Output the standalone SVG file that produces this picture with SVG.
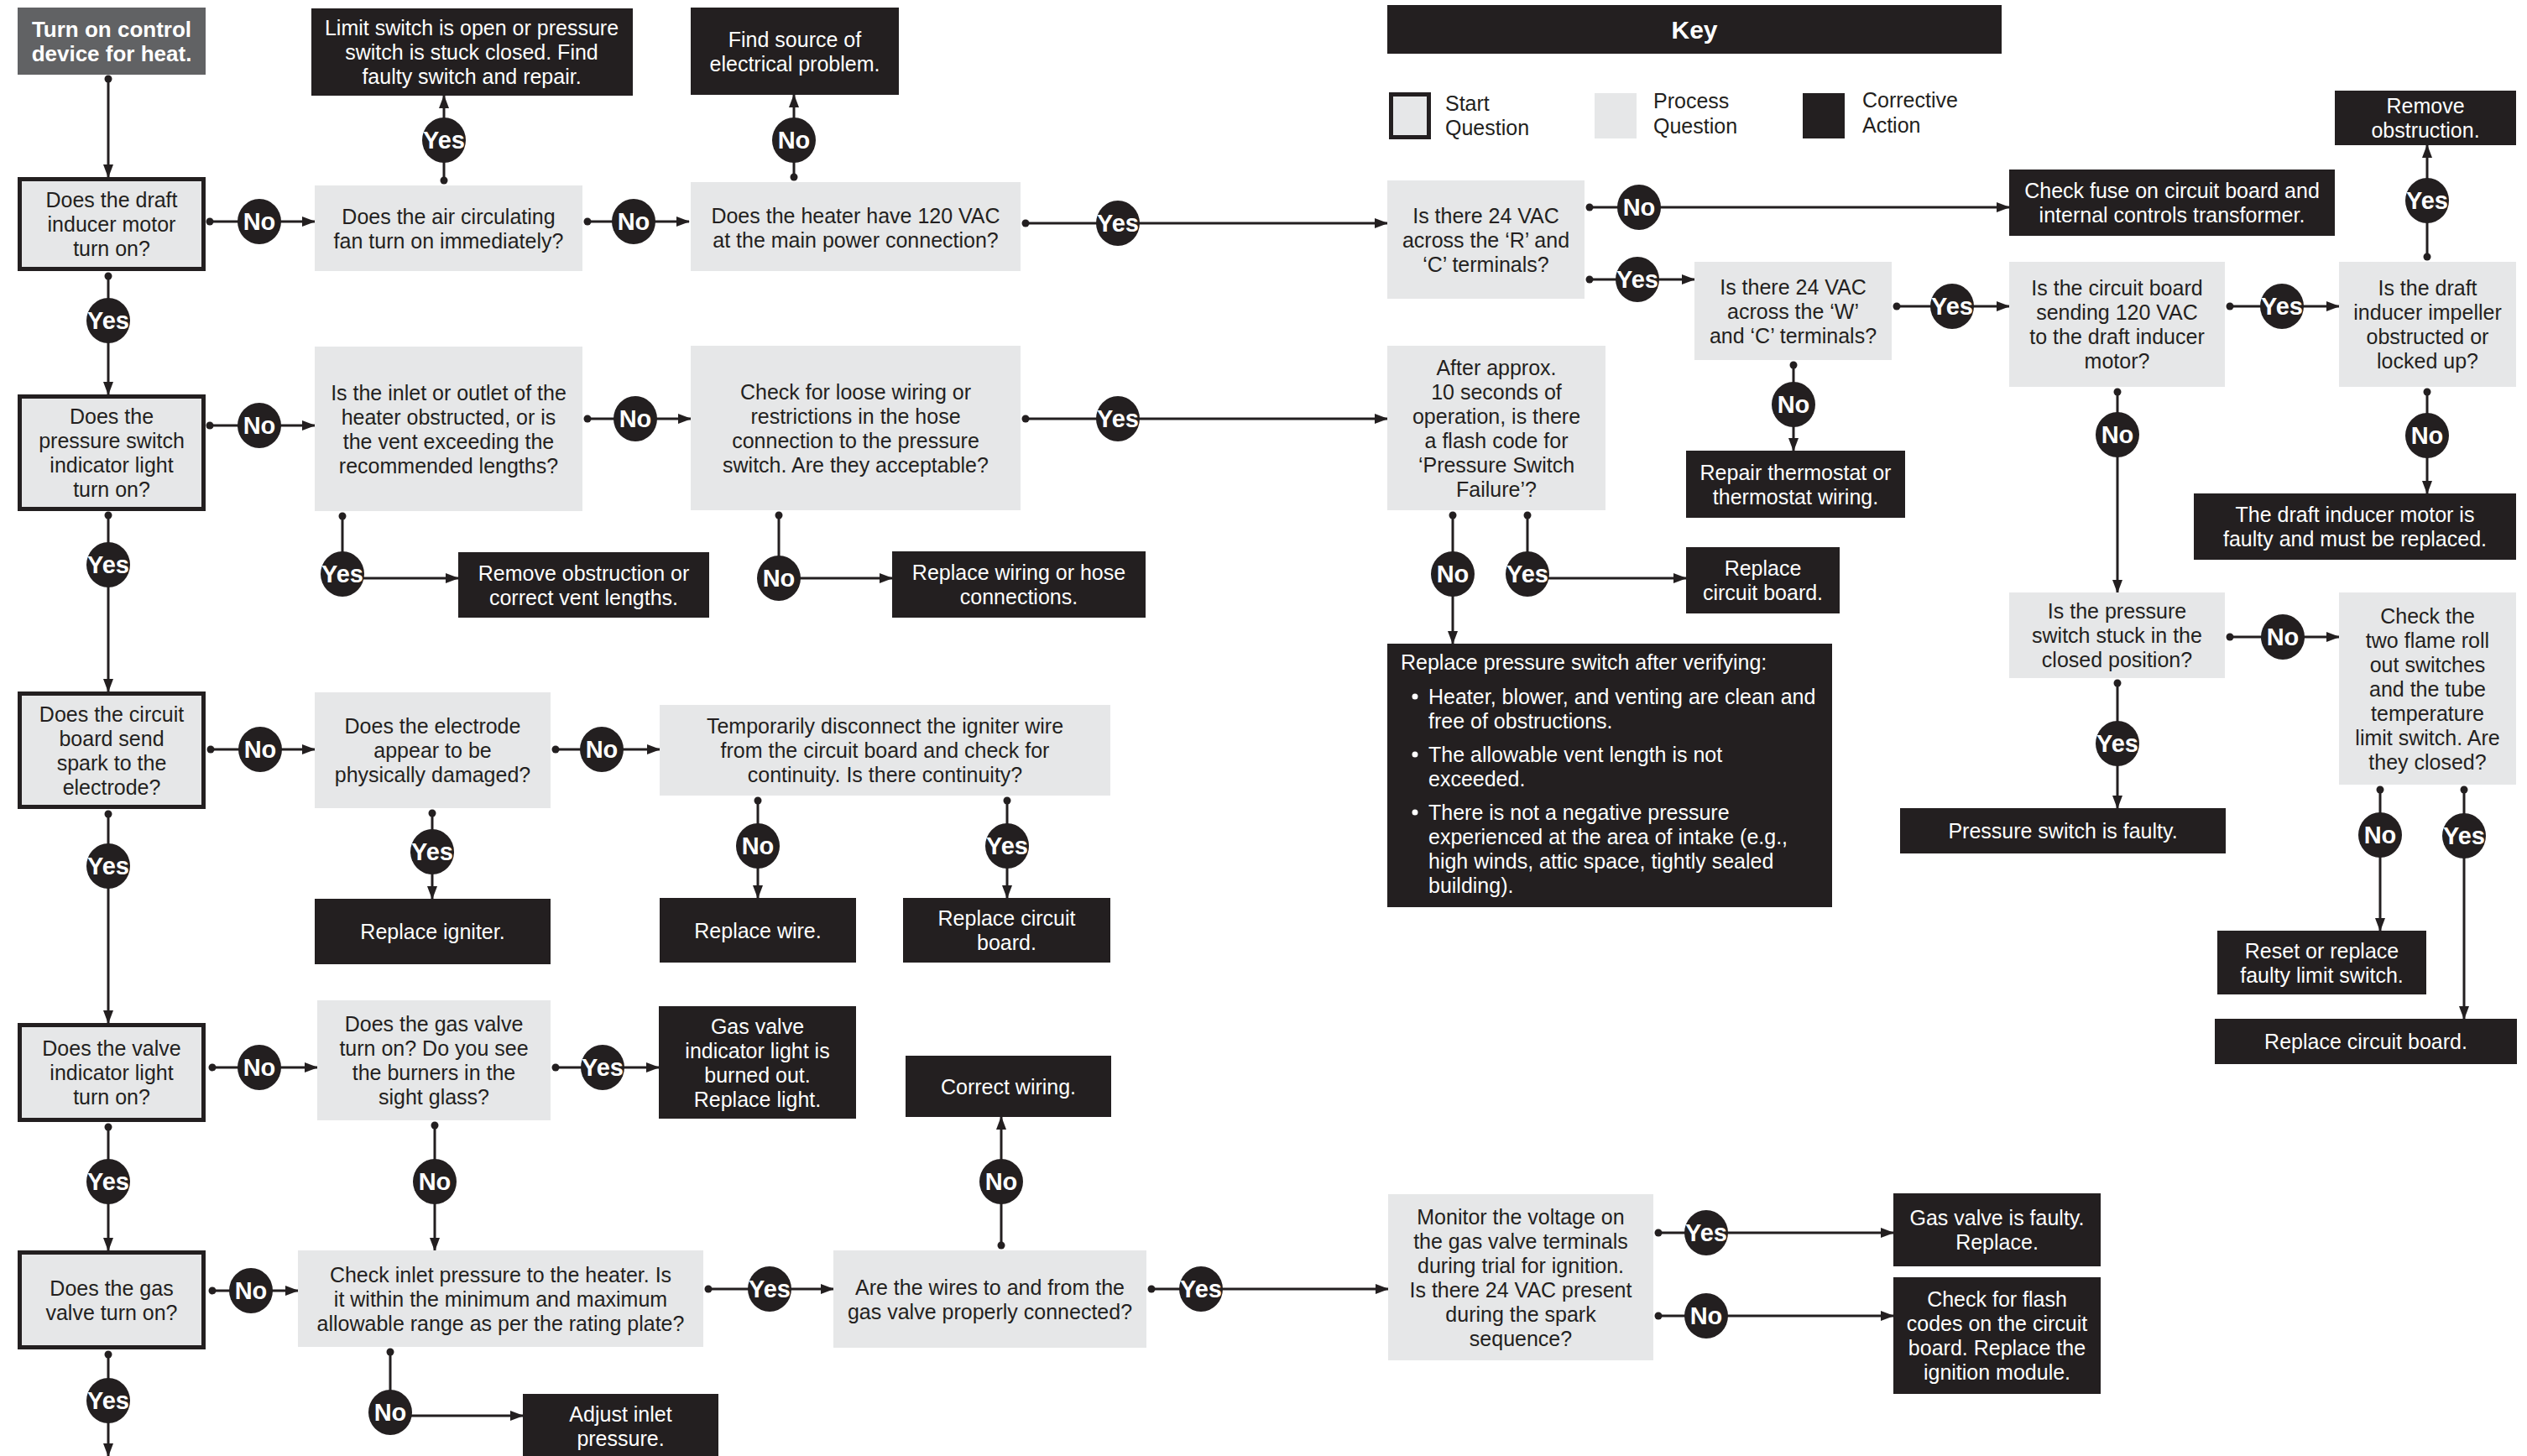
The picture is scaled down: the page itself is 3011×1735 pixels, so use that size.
<svg xmlns="http://www.w3.org/2000/svg" width="3011" height="1735" viewBox="0 0 3011 1735">
<style>
text{font-family:"Liberation Sans",Arial,Helvetica,sans-serif;font-size:25px;fill:#231f20;text-anchor:middle}
.p{fill:#e6e7e8}
.c{fill:#231f20}
.s{fill:#e6e7e8;stroke:#231f20;stroke-width:5}
.w{fill:#ffffff}
.l{text-anchor:start}
.hd{font-weight:bold;font-size:26px;fill:#ffffff}
.key{font-weight:bold;font-size:30px;fill:#ffffff}
#connectors path{fill:none;stroke:#231f20;stroke-width:3;marker-start:url(#dot)}
.arr{marker-end:url(#arrow)}
.lbl ellipse{fill:#231f20}
.lbl text{font-weight:bold;font-size:29px;fill:#ffffff}
</style>
<defs>
<marker id="arrow" markerUnits="userSpaceOnUse" markerWidth="16" markerHeight="12" refX="15" refY="6" orient="auto"><path d="M0,0 L16,6 L0,12 Z" fill="#231f20"/></marker>
<marker id="dot" markerUnits="userSpaceOnUse" markerWidth="10" markerHeight="10" refX="5" refY="5" orient="auto"><circle cx="5" cy="5" r="4.5" fill="#231f20"/></marker>
</defs>
<rect width="3011" height="1735" fill="#ffffff"/>

<g id="connectors">
<path class="arr" d="M129,94 V211"/>
<path class="arr" d="M250,264 H375"/>
<path class="arr" d="M529,215 V114"/>
<path class="arr" d="M700,264 H821"/>
<path class="arr" d="M946,211 V113"/>
<path class="arr" d="M1222,266 H1653"/>
<path class="arr" d="M129,329 V470"/>
<path class="arr" d="M250,507 H375"/>
<path class="arr" d="M700,499 H823"/>
<path class="arr" d="M1222,499 H1653"/>
<path class="arr" d="M408,615 V689 H546"/>
<path class="arr" d="M928,614 V689 H1063"/>
<path class="arr" d="M1820,614 V689 H2009"/>
<path class="arr" d="M1731,614 V767"/>
<path class="arr" d="M1894,247 H2394"/>
<path class="arr" d="M1894,333 H2019"/>
<path class="arr" d="M2260,365 H2394"/>
<path class="arr" d="M2657,365 H2787"/>
<path class="arr" d="M2892,306 V173"/>
<path class="arr" d="M2137,435 V537"/>
<path class="arr" d="M2523,467 V706"/>
<path class="arr" d="M2892,467 V588"/>
<path class="arr" d="M2657,759 H2787"/>
<path class="arr" d="M2523,814 V963"/>
<path class="arr" d="M2836,941 V1109"/>
<path class="arr" d="M2936,941 V1214"/>
<path class="arr" d="M129,614 V824"/>
<path class="arr" d="M251,893 H375"/>
<path class="arr" d="M662,893 H786"/>
<path class="arr" d="M515,969 V1071"/>
<path class="arr" d="M903,954 V1070"/>
<path class="arr" d="M1200,954 V1070"/>
<path class="arr" d="M129,970 V1219"/>
<path class="arr" d="M253,1272 H378"/>
<path class="arr" d="M662,1272 H785"/>
<path class="arr" d="M518,1341 V1490"/>
<path class="arr" d="M129,1343 V1490"/>
<path class="arr" d="M253,1538 H355"/>
<path class="arr" d="M129,1614 V1735"/>
<path class="arr" d="M465,1611 V1687 H623"/>
<path class="arr" d="M844,1536 H993"/>
<path class="arr" d="M1193,1484 V1331"/>
<path class="arr" d="M1372,1536 H1654"/>
<path class="arr" d="M1976,1469 H2256"/>
<path class="arr" d="M1976,1568 H2256"/>

<g class="lbl"><ellipse cx="309" cy="264" rx="26" ry="27"/><text x="309" y="274">No</text></g>
<g class="lbl"><ellipse cx="529" cy="167" rx="26" ry="27"/><text x="529" y="177">Yes</text></g>
<g class="lbl"><ellipse cx="755" cy="264" rx="26" ry="27"/><text x="755" y="274">No</text></g>
<g class="lbl"><ellipse cx="946" cy="167" rx="26" ry="27"/><text x="946" y="177">No</text></g>
<g class="lbl"><ellipse cx="1332" cy="266" rx="26" ry="27"/><text x="1332" y="276">Yes</text></g>
<g class="lbl"><ellipse cx="129" cy="382" rx="26" ry="27"/><text x="129" y="392">Yes</text></g>
<g class="lbl"><ellipse cx="309" cy="507" rx="26" ry="27"/><text x="309" y="517">No</text></g>
<g class="lbl"><ellipse cx="757" cy="499" rx="26" ry="27"/><text x="757" y="509">No</text></g>
<g class="lbl"><ellipse cx="1332" cy="499" rx="26" ry="27"/><text x="1332" y="509">Yes</text></g>
<g class="lbl"><ellipse cx="408" cy="684" rx="26" ry="27"/><text x="408" y="694">Yes</text></g>
<g class="lbl"><ellipse cx="928" cy="689" rx="26" ry="27"/><text x="928" y="699">No</text></g>
<g class="lbl"><ellipse cx="1820" cy="684" rx="26" ry="27"/><text x="1820" y="694">Yes</text></g>
<g class="lbl"><ellipse cx="1731" cy="684" rx="26" ry="27"/><text x="1731" y="694">No</text></g>
<g class="lbl"><ellipse cx="1953" cy="247" rx="26" ry="27"/><text x="1953" y="257">No</text></g>
<g class="lbl"><ellipse cx="1951" cy="333" rx="26" ry="27"/><text x="1951" y="343">Yes</text></g>
<g class="lbl"><ellipse cx="2326" cy="365" rx="26" ry="27"/><text x="2326" y="375">Yes</text></g>
<g class="lbl"><ellipse cx="2719" cy="365" rx="26" ry="27"/><text x="2719" y="375">Yes</text></g>
<g class="lbl"><ellipse cx="2892" cy="239" rx="26" ry="27"/><text x="2892" y="249">Yes</text></g>
<g class="lbl"><ellipse cx="2137" cy="482" rx="26" ry="27"/><text x="2137" y="492">No</text></g>
<g class="lbl"><ellipse cx="2523" cy="518" rx="26" ry="27"/><text x="2523" y="528">No</text></g>
<g class="lbl"><ellipse cx="2892" cy="519" rx="26" ry="27"/><text x="2892" y="529">No</text></g>
<g class="lbl"><ellipse cx="2720" cy="759" rx="26" ry="27"/><text x="2720" y="769">No</text></g>
<g class="lbl"><ellipse cx="2523" cy="886" rx="26" ry="27"/><text x="2523" y="896">Yes</text></g>
<g class="lbl"><ellipse cx="2836" cy="995" rx="26" ry="27"/><text x="2836" y="1005">No</text></g>
<g class="lbl"><ellipse cx="2936" cy="996" rx="26" ry="27"/><text x="2936" y="1006">Yes</text></g>
<g class="lbl"><ellipse cx="129" cy="673" rx="26" ry="27"/><text x="129" y="683">Yes</text></g>
<g class="lbl"><ellipse cx="310" cy="893" rx="26" ry="27"/><text x="310" y="903">No</text></g>
<g class="lbl"><ellipse cx="717" cy="893" rx="26" ry="27"/><text x="717" y="903">No</text></g>
<g class="lbl"><ellipse cx="515" cy="1015" rx="26" ry="27"/><text x="515" y="1025">Yes</text></g>
<g class="lbl"><ellipse cx="903" cy="1008" rx="26" ry="27"/><text x="903" y="1018">No</text></g>
<g class="lbl"><ellipse cx="1200" cy="1008" rx="26" ry="27"/><text x="1200" y="1018">Yes</text></g>
<g class="lbl"><ellipse cx="129" cy="1032" rx="26" ry="27"/><text x="129" y="1042">Yes</text></g>
<g class="lbl"><ellipse cx="309" cy="1272" rx="26" ry="27"/><text x="309" y="1282">No</text></g>
<g class="lbl"><ellipse cx="718" cy="1272" rx="26" ry="27"/><text x="718" y="1282">Yes</text></g>
<g class="lbl"><ellipse cx="518" cy="1408" rx="26" ry="27"/><text x="518" y="1418">No</text></g>
<g class="lbl"><ellipse cx="129" cy="1408" rx="26" ry="27"/><text x="129" y="1418">Yes</text></g>
<g class="lbl"><ellipse cx="299" cy="1538" rx="26" ry="27"/><text x="299" y="1548">No</text></g>
<g class="lbl"><ellipse cx="129" cy="1669" rx="26" ry="27"/><text x="129" y="1679">Yes</text></g>
<g class="lbl"><ellipse cx="465" cy="1683" rx="26" ry="27"/><text x="465" y="1693">No</text></g>
<g class="lbl"><ellipse cx="917" cy="1536" rx="26" ry="27"/><text x="917" y="1546">Yes</text></g>
<g class="lbl"><ellipse cx="1193" cy="1408" rx="26" ry="27"/><text x="1193" y="1418">No</text></g>
<g class="lbl"><ellipse cx="1431" cy="1536" rx="26" ry="27"/><text x="1431" y="1546">Yes</text></g>
<g class="lbl"><ellipse cx="2033" cy="1469" rx="26" ry="27"/><text x="2033" y="1479">Yes</text></g>
<g class="lbl"><ellipse cx="2033" cy="1568" rx="26" ry="27"/><text x="2033" y="1578">No</text></g>
</g>

<g id="start"><rect x="21" y="9" width="224" height="80" fill="#616264"/><text class="hd"><tspan x="133" y="44">Turn on control</tspan><tspan x="133" y="73">device for heat.</tspan></text></g>

<g id="key">
<rect x="1653" y="6" width="732" height="58" class="c"/><text class="key" x="2019" y="46">Key</text>
<rect x="1657.5" y="112.5" width="45" height="51" class="s"/>
<text class="l"><tspan x="1722" y="132">Start</tspan><tspan x="1722" y="161">Question</tspan></text>
<rect x="1900" y="111" width="50" height="54" class="p"/>
<text class="l"><tspan x="1970" y="129">Process</tspan><tspan x="1970" y="159">Question</tspan></text>
<rect x="2148" y="111" width="50" height="54" class="c"/>
<text class="l"><tspan x="2219" y="128">Corrective</tspan><tspan x="2219" y="158">Action</tspan></text>
</g>

<g id="q1"><rect x="23.5" y="213.5" width="219" height="107" class="s"/><text><tspan x="133" y="247">Does the draft</tspan><tspan x="133" y="276">inducer motor</tspan><tspan x="133" y="305">turn on?</tspan></text></g>
<g id="fan"><rect x="375" y="221" width="319" height="102" class="p"/><text><tspan x="534.5" y="267">Does the air circulating</tspan><tspan x="534.5" y="296">fan turn on immediately?</tspan></text></g>
<g id="limit"><rect x="371" y="10" width="383" height="104" class="c"/><text class="w"><tspan x="562" y="42">Limit switch is open or pressure</tspan><tspan x="562" y="71">switch is stuck closed. Find</tspan><tspan x="562" y="100">faulty switch and repair.</tspan></text></g>
<g id="findsource"><rect x="823" y="9" width="248" height="104" class="c"/><text class="w"><tspan x="947" y="56">Find source of</tspan><tspan x="947" y="85">electrical problem.</tspan></text></g>
<g id="heater"><rect x="823" y="217" width="393" height="106" class="p"/><text><tspan x="1019.5" y="266">Does the heater have 120 VAC</tspan><tspan x="1019.5" y="295">at the main power connection?</tspan></text></g>
<g id="rc"><rect x="1653" y="215" width="235" height="141" class="p"/><text><tspan x="1770.5" y="265.5">Is there 24 VAC</tspan><tspan x="1770.5" y="294.5">across the ‘R’ and</tspan><tspan x="1770.5" y="323.5">‘C’ terminals?</tspan></text></g>
<g id="fuse"><rect x="2394" y="202" width="388" height="79" class="c"/><text class="w"><tspan x="2588" y="236">Check fuse on circuit board and</tspan><tspan x="2588" y="265">internal controls transformer.</tspan></text></g>
<g id="wc"><rect x="2019" y="312" width="235" height="117" class="p"/><text><tspan x="2136.5" y="350.5">Is there 24 VAC</tspan><tspan x="2136.5" y="379.5">across the ‘W’</tspan><tspan x="2136.5" y="408.5">and ‘C’ terminals?</tspan></text></g>
<g id="cbsend"><rect x="2394" y="312" width="257" height="149" class="p"/><text><tspan x="2522.5" y="352">Is the circuit board</tspan><tspan x="2522.5" y="381">sending 120 VAC</tspan><tspan x="2522.5" y="410">to the draft inducer</tspan><tspan x="2522.5" y="439">motor?</tspan></text></g>
<g id="impeller"><rect x="2787" y="312" width="211" height="149" class="p"/><text><tspan x="2892.5" y="352">Is the draft</tspan><tspan x="2892.5" y="381">inducer impeller</tspan><tspan x="2892.5" y="410">obstructed or</tspan><tspan x="2892.5" y="439">locked up?</tspan></text></g>
<g id="removeobs"><rect x="2782" y="108" width="216" height="65" class="c"/><text class="w"><tspan x="2890" y="135">Remove</tspan><tspan x="2890" y="164">obstruction.</tspan></text></g>
<g id="after"><rect x="1653" y="412" width="260" height="196" class="p"/><text><tspan x="1783" y="446.5">After approx.</tspan><tspan x="1783" y="475.5">10 seconds of</tspan><tspan x="1783" y="504.5">operation, is there</tspan><tspan x="1783" y="533.5">a flash code for</tspan><tspan x="1783" y="562.5">‘Pressure Switch</tspan><tspan x="1783" y="591.5">Failure’?</tspan></text></g>
<g id="repair"><rect x="2009" y="537" width="261" height="80" class="c"/><text class="w"><tspan x="2139.5" y="571.5">Repair thermostat or</tspan><tspan x="2139.5" y="600.5">thermostat wiring.</tspan></text></g>
<g id="replcb1"><rect x="2009" y="652" width="183" height="79" class="c"/><text class="w"><tspan x="2100.5" y="686">Replace</tspan><tspan x="2100.5" y="715">circuit board.</tspan></text></g>
<g id="replps"><rect x="1653" y="767" width="530" height="314" class="c"/>
<text class="w l"><tspan x="1669" y="798">Replace pressure switch after verifying:</tspan></text>
<circle cx="1686" cy="830" r="3.5" fill="#fff"/><circle cx="1686" cy="899" r="3.5" fill="#fff"/><circle cx="1686" cy="968" r="3.5" fill="#fff"/>
<text class="w l"><tspan x="1702" y="839">Heater, blower, and venting are clean and</tspan><tspan x="1702" y="868">free of obstructions.</tspan><tspan x="1702" y="908">The allowable vent length is not</tspan><tspan x="1702" y="937">exceeded.</tspan><tspan x="1702" y="977">There is not a negative pressure</tspan><tspan x="1702" y="1006">experienced at the area of intake (e.g.,</tspan><tspan x="1702" y="1035">high winds, attic space, tightly sealed</tspan><tspan x="1702" y="1064">building).</tspan></text></g>
<g id="psstuck"><rect x="2394" y="706" width="257" height="102" class="p"/><text><tspan x="2522.5" y="737">Is the pressure</tspan><tspan x="2522.5" y="766">switch stuck in the</tspan><tspan x="2522.5" y="795">closed position?</tspan></text></g>
<g id="flame"><rect x="2787" y="706" width="211" height="229" class="p"/><text><tspan x="2892.5" y="742.5">Check the</tspan><tspan x="2892.5" y="771.5">two flame roll</tspan><tspan x="2892.5" y="800.5">out switches</tspan><tspan x="2892.5" y="829.5">and the tube</tspan><tspan x="2892.5" y="858.5">temperature</tspan><tspan x="2892.5" y="887.5">limit switch. Are</tspan><tspan x="2892.5" y="916.5">they closed?</tspan></text></g>
<g id="draftfaulty"><rect x="2614" y="588" width="384" height="79" class="c"/><text class="w"><tspan x="2806" y="622">The draft inducer motor is</tspan><tspan x="2806" y="651">faulty and must be replaced.</tspan></text></g>
<g id="psfaulty"><rect x="2264" y="963" width="388" height="54" class="c"/><text class="w" x="2458" y="999">Pressure switch is faulty.</text></g>
<g id="reset"><rect x="2642" y="1109" width="249" height="76" class="c"/><text class="w"><tspan x="2766.5" y="1141.5">Reset or replace</tspan><tspan x="2766.5" y="1170.5">faulty limit switch.</tspan></text></g>
<g id="replcb2"><rect x="2639" y="1214" width="360" height="54" class="c"/><text class="w" x="2819" y="1250">Replace circuit board.</text></g>

<g id="q2"><rect x="23.5" y="472.5" width="219" height="134" class="s"/><text><tspan x="133" y="505">Does the</tspan><tspan x="133" y="534">pressure switch</tspan><tspan x="133" y="563">indicator light</tspan><tspan x="133" y="592">turn on?</tspan></text></g>
<g id="inlet"><rect x="375" y="413" width="319" height="196" class="p"/><text><tspan x="534.5" y="476.5">Is the inlet or outlet of the</tspan><tspan x="534.5" y="505.5">heater obstructed, or is</tspan><tspan x="534.5" y="534.5">the vent exceeding the</tspan><tspan x="534.5" y="563.5">recommended lengths?</tspan></text></g>
<g id="loose"><rect x="823" y="412" width="393" height="196" class="p"/><text><tspan x="1019.5" y="475.5">Check for loose wiring or</tspan><tspan x="1019.5" y="504.5">restrictions in the hose</tspan><tspan x="1019.5" y="533.5">connection to the pressure</tspan><tspan x="1019.5" y="562.5">switch. Are they acceptable?</tspan></text></g>
<g id="removecorrect"><rect x="546" y="658" width="299" height="78" class="c"/><text class="w"><tspan x="695.5" y="691.5">Remove obstruction or</tspan><tspan x="695.5" y="720.5">correct vent lengths.</tspan></text></g>
<g id="replwiring"><rect x="1063" y="657" width="302" height="79" class="c"/><text class="w"><tspan x="1214" y="691">Replace wiring or hose</tspan><tspan x="1214" y="720">connections.</tspan></text></g>

<g id="q3"><rect x="23.5" y="826.5" width="219" height="135" class="s"/><text><tspan x="133" y="859.5">Does the circuit</tspan><tspan x="133" y="888.5">board send</tspan><tspan x="133" y="917.5">spark to the</tspan><tspan x="133" y="946.5">electrode?</tspan></text></g>
<g id="electrode"><rect x="375" y="825" width="281" height="138" class="p"/><text><tspan x="515.5" y="874">Does the electrode</tspan><tspan x="515.5" y="903">appear to be</tspan><tspan x="515.5" y="932">physically damaged?</tspan></text></g>
<g id="temp"><rect x="786" y="840" width="537" height="108" class="p"/><text><tspan x="1054.5" y="874">Temporarily disconnect the igniter wire</tspan><tspan x="1054.5" y="903">from the circuit board and check for</tspan><tspan x="1054.5" y="932">continuity. Is there continuity?</tspan></text></g>
<g id="igniter"><rect x="375" y="1071" width="281" height="78" class="c"/><text class="w" x="515.5" y="1119">Replace igniter.</text></g>
<g id="wire"><rect x="786" y="1070" width="234" height="77" class="c"/><text class="w" x="903" y="1117.5">Replace wire.</text></g>
<g id="replcb3"><rect x="1076" y="1070" width="247" height="77" class="c"/><text class="w"><tspan x="1199.5" y="1103">Replace circuit</tspan><tspan x="1199.5" y="1132">board.</tspan></text></g>

<g id="q4"><rect x="23.5" y="1221.5" width="219" height="113" class="s"/><text><tspan x="133" y="1258">Does the valve</tspan><tspan x="133" y="1287">indicator light</tspan><tspan x="133" y="1316">turn on?</tspan></text></g>
<g id="gasvalve"><rect x="378" y="1192" width="278" height="143" class="p"/><text><tspan x="517" y="1229">Does the gas valve</tspan><tspan x="517" y="1258">turn on? Do you see</tspan><tspan x="517" y="1287">the burners in the</tspan><tspan x="517" y="1316">sight glass?</tspan></text></g>
<g id="indicator"><rect x="785" y="1199" width="235" height="134" class="c"/><text class="w"><tspan x="902.5" y="1232">Gas valve</tspan><tspan x="902.5" y="1261">indicator light is</tspan><tspan x="902.5" y="1290">burned out.</tspan><tspan x="902.5" y="1319">Replace light.</tspan></text></g>
<g id="q5"><rect x="23.5" y="1492.5" width="219" height="113" class="s"/><text><tspan x="133" y="1543.5">Does the gas</tspan><tspan x="133" y="1572.5">valve turn on?</tspan></text></g>
<g id="checkinlet"><rect x="355" y="1490" width="483" height="115" class="p"/><text><tspan x="596.5" y="1527.5">Check inlet pressure to the heater. Is</tspan><tspan x="596.5" y="1556.5">it within the minimum and maximum</tspan><tspan x="596.5" y="1585.5">allowable range as per the rating plate?</tspan></text></g>
<g id="adjust"><rect x="623" y="1661" width="233" height="80" class="c"/><text class="w"><tspan x="739.5" y="1694">Adjust inlet</tspan><tspan x="739.5" y="1723">pressure.</tspan></text></g>
<g id="wires"><rect x="993" y="1490" width="373" height="116" class="p"/><text><tspan x="1179.5" y="1542.5">Are the wires to and from the</tspan><tspan x="1179.5" y="1571.5">gas valve properly connected?</tspan></text></g>
<g id="correctwiring"><rect x="1079" y="1258" width="245" height="73" class="c"/><text class="w" x="1201.5" y="1303.5">Correct wiring.</text></g>
<g id="monitor"><rect x="1654" y="1423" width="316" height="198" class="p"/><text><tspan x="1812" y="1458.5">Monitor the voltage on</tspan><tspan x="1812" y="1487.5">the gas valve terminals</tspan><tspan x="1812" y="1516.5">during trial for ignition.</tspan><tspan x="1812" y="1545.5">Is there 24 VAC present</tspan><tspan x="1812" y="1574.5">during the spark</tspan><tspan x="1812" y="1603.5">sequence?</tspan></text></g>
<g id="gvfaulty"><rect x="2256" y="1422" width="247" height="87" class="c"/><text class="w"><tspan x="2379.5" y="1460">Gas valve is faulty.</tspan><tspan x="2379.5" y="1489">Replace.</tspan></text></g>
<g id="flash"><rect x="2256" y="1522" width="247" height="139" class="c"/><text class="w"><tspan x="2379.5" y="1557">Check for flash</tspan><tspan x="2379.5" y="1586">codes on the circuit</tspan><tspan x="2379.5" y="1615">board. Replace the</tspan><tspan x="2379.5" y="1644">ignition module.</tspan></text></g>
</svg>
